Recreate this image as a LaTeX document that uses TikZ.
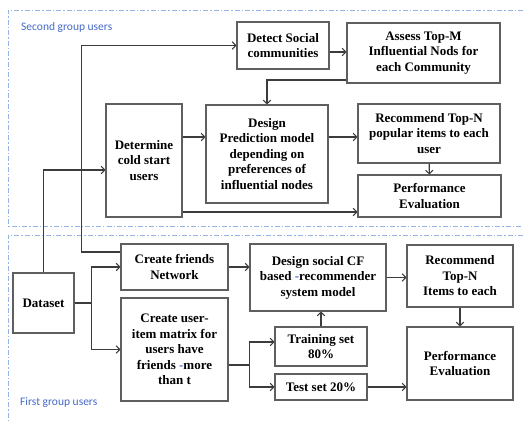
\documentclass[tikz,border=0pt]{standalone}
\usepackage{fontspec}
\usetikzlibrary{arrows.meta}
\setmainfont{Liberation Serif}
\newfontfamily\grpfont{Carlito}
\definecolor{frameblue}{RGB}{150,180,225}
\definecolor{grpblue}{RGB}{70,105,200}
\definecolor{boxgray}{RGB}{95,95,95}
\definecolor{linegray}{RGB}{60,60,60}
\begin{document}
\begin{tikzpicture}[x=1pt, y={(0pt,-1pt)},
		blk/.style={draw=boxgray, line width=1.1pt, align=center, inner sep=0pt,
			font=\fontsize{13}{15.5}\selectfont\bfseries},
		conn/.style={draw=linegray, line width=1.1pt, -{Straight Barb[length=3.5pt, width=7.5pt]}},
		grpframe/.style={draw=frameblue, line width=.8pt, dash pattern=on 5pt off 2pt on 1.5pt off 2pt},
		grplabel/.style={anchor=west, inner sep=0pt, text=grpblue, font=\grpfont\fontsize{11.5}{13}\selectfont}]
	\useasboundingbox (0, 0) rectangle (523, 422);

	\draw[grpframe](523, 10) -- (8, 10) -- (8, 226) -- (523, 226);
	\draw[grpframe](523, 235) -- (8, 235) -- (8, 422);
	\node[grplabel] (second) at(21, 27){Second group users};
	\node[grplabel] (first) at(20, 403){First group users};

	\node[blk, minimum width=92pt, minimum height=47pt] (detect) at(283, 45.5){Detect Social\\communities};
	\node[blk, minimum width=153pt, minimum height=60pt] (assess) at(423.5, 53){Assess Top-M\\Influential Nods for\\each Community};
	\node[blk, minimum width=76pt, minimum height=113pt] (cold) at(144, 160.5){Determine\\cold start\\users};
	\node[blk, minimum width=122pt, minimum height=98pt] (predict) at(267, 154){Design\\Prediction model\\depending on\\preferences of\\influential nodes};
	\node[blk, minimum width=142pt, minimum height=59pt] (popular) at(429, 133.5){Recommend Top-N\\popular items to each\\user};
	\node[blk, minimum width=143pt, minimum height=42pt] (evaltop) at(429.5, 196){Performance\\Evaluation};

	\node[blk, minimum width=61pt, minimum height=60pt] (dataset) at(43.5, 303){Dataset};
	\node[blk, minimum width=107pt, minimum height=46pt] (friends) at(174.5, 267){Create friends\\Network};
	\node[blk, minimum width=107pt, minimum height=103pt] (matrix) at(174.5, 349.5){Create user-\\item matrix for\\users have\\friends {\color{grpblue}-}more\\than t};
	\node[blk, minimum width=136pt, minimum height=67pt] (socialcf) at(318, 277.5){Design social CF\\based {\color{grpblue}-}recommender\\system model};
	\node[blk, minimum width=106pt, minimum height=62pt] (topn) at(460, 276){Recommend\\Top-N\\Items to each};
	\node[blk, minimum width=92pt, minimum height=39pt] (train) at(321, 346.5){Training set\\80\%};
	\node[blk, minimum width=92pt, minimum height=26pt] (test) at(321, 387){Test set 20\%};
	\node[blk, minimum width=106pt, minimum height=73pt] (evalbot) at(460, 363.5){Performance\\Evaluation};

	\draw[conn]([yshift=15pt]friends.west) -- ++(-39, 0) |- (detect.west);
	\draw[conn]([yshift=-6.5pt]detect.east) -- ([yshift=-6.5pt]detect.east -| assess.west);
	\draw[conn]([yshift=-27pt]assess.west) -| (predict.north);
	\draw[conn](dataset.north) |- ([yshift=-9.5pt]cold.west);
	\draw[conn]([yshift=23.5pt]cold.east) -- ([yshift=23.5pt]cold.east -| predict.west);
	\draw[conn]([yshift=-51.5pt]cold.east) -- ([yshift=-51.5pt]cold.east -| evaltop.west);
	\draw[conn]([yshift=17pt]predict.east) -- ([yshift=17pt]predict.east -| popular.west);
	\draw[conn](popular) -- (evaltop);

	\draw[conn](dataset.east) -- ++(17, 0) |- (friends.west);
	\draw[conn](dataset.east) -- ++(17, 0) |- (matrix.west);
	\draw[conn](friends.east) -- (friends.east -| socialcf.west);
	\draw[conn](socialcf.east) -- (socialcf.east -| topn.west);
	\draw[conn](topn) -- (evalbot);
	\draw[conn](train) -- (train |- socialcf.south);
	\draw[conn]([yshift=-15.5pt]matrix.east) -- ++(21, 0) |- ([yshift=4.5pt]train.west);
	\draw[conn]([yshift=-15.5pt]matrix.east) -- ++(21, 0) |- (test.west);
	\draw[conn](test.east) -- (test.east -| evalbot.west);
\end{tikzpicture}
\end{document}
